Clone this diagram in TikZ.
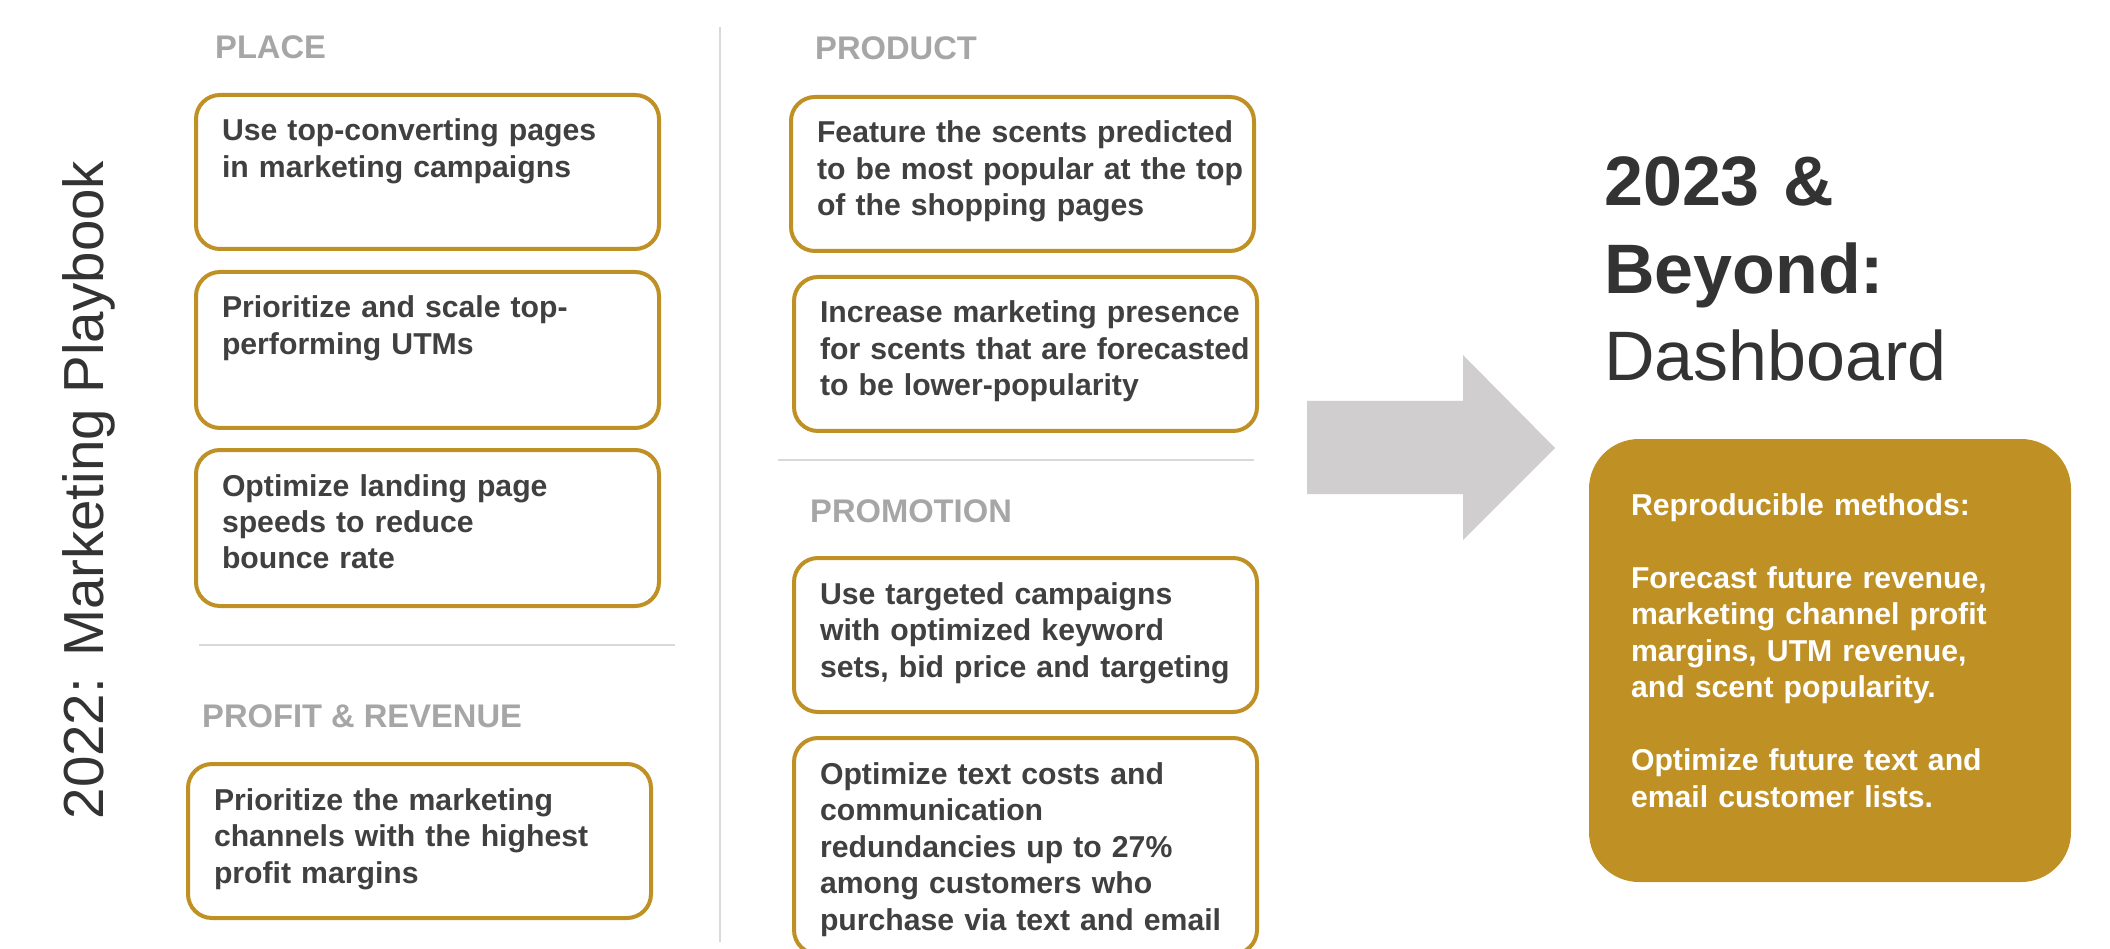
\documentclass[tikz,border=0pt]{standalone}
\usepackage{fontspec}
\setmainfont{Liberation Sans}
\usepackage{xcolor}
\usepackage{tikz}

\definecolor{gold}{HTML}{BF9024}
\definecolor{darktext}{HTML}{404040}
\definecolor{titletext}{HTML}{333333}
\definecolor{headgray}{HTML}{A6A6A6}
\definecolor{rulegray}{HTML}{D9D9D9}
\definecolor{arrowgray}{HTML}{D0CECE}

\begin{document}
\begin{tikzpicture}[x=1pt, y=-1pt,
  play/.style={draw=gold, line width=4pt, rounded corners=24pt, anchor=north west,
    outer sep=0pt, inner xsep=26pt, inner ysep=0pt, text width=411pt, align=left,
    text height=46pt, text depth=108pt, text=darktext,
    font=\fontsize{30.2}{36.5}\selectfont\bfseries},
  head/.style={anchor=base west, inner sep=0pt, text=headgray,
    font=\fontsize{32.7}{36}\selectfont\bfseries},
  rule/.style={draw=rulegray, line width=2pt}]

\fill[white] (0,0) rectangle (2110,949);
\useasboundingbox (0,0) rectangle (2110,949);

\node[rotate=90, anchor=base, inner sep=0pt, text=titletext,
  font=\fontsize{56.5}{60}\selectfont] (playbook) at (103,490) {2022: Marketing Playbook};

% left column
\node[head] (place) at (215,59) {PLACE};

\node[play] (place1) at (196,95) {
\begin{tabular}[t]{@{}l@{}}
Use top-converting pages \\
in marketing campaigns
\end{tabular}
};

\node[play, text depth=110pt] (place2) at (196,272) {
\begin{tabular}[t]{@{}l@{}}
Prioritize and scale top- \\
performing UTMs
\end{tabular}
};

\node[play, text depth=110pt] (place3) at (196,450) {
\begin{tabular}[t]{@{}l@{}}
Optimize landing page \\
speeds to reduce \\
bounce rate
\end{tabular}
};

\path[rule] (199,645) -- (675,645);

\node[head] (profit) at (202,727) {PROFIT \& REVENUE};

\node[play] (profit1) at (188,764) {
\begin{tabular}[t]{@{}l@{}}
Prioritize the marketing \\
channels with the highest \\
profit margins
\end{tabular}
};

\path[rule] (720,27) -- (720,942);

% middle column
\node[head] (product) at (815,60) {PRODUCT};

\node[play] (product1) at (791,97) {
\begin{tabular}[t]{@{}l@{}}
Feature the scents predicted \\
to be most popular at the top \\
of the shopping pages
\end{tabular}
};

\node[play] (product2) at (794,277) {
\begin{tabular}[t]{@{}l@{}}
Increase marketing presence \\
for scents that are forecasted \\
to be lower-popularity
\end{tabular}
};

\path[rule] (778,460) -- (1254,460);

\node[head] (promo) at (810,522) {PROMOTION};

\node[play] (promo1) at (794,558) {
\begin{tabular}[t]{@{}l@{}}
Use targeted campaigns \\
with optimized keyword \\
sets, bid price and targeting
\end{tabular}
};

\node[play, text depth=170pt] (promo2) at (794,738) {
\begin{tabular}[t]{@{}l@{}}
Optimize text costs and \\
communication \\
redundancies up to 27\% \\
among customers who \\
purchase via text and email
\end{tabular}
};

% arrow
\fill[arrowgray] (1307,401) -- (1463,401) -- (1463,355) -- (1555,448)
  -- (1463,540) -- (1463,494) -- (1307,494) -- cycle;

% right column
\node[anchor=base west, inner sep=0pt, text width=500pt, align=left,
  text=titletext, font=\fontsize{70}{87.5}\selectfont] (beyond) at (1604,206) {
\textbf{2023 \&}\\
\textbf{Beyond:}\\
Dashboard
};

\node[fill=gold, rounded corners=50pt, anchor=north west, outer sep=0pt,
  inner xsep=42pt, inner ysep=0pt, text width=398pt, align=left,
  text height=76pt, text depth=367pt, text=white,
  font=\fontsize{30.2}{36.5}\selectfont\bfseries] (dash) at (1589,439) {
\begin{tabular}[t]{@{}l@{}}
Reproducible methods: \\
 \\
Forecast future revenue, \\
marketing channel profit \\
margins, UTM revenue, \\
and scent popularity. \\
 \\
Optimize future text and \\
email customer lists.
\end{tabular}
};

\end{tikzpicture}
\end{document}
